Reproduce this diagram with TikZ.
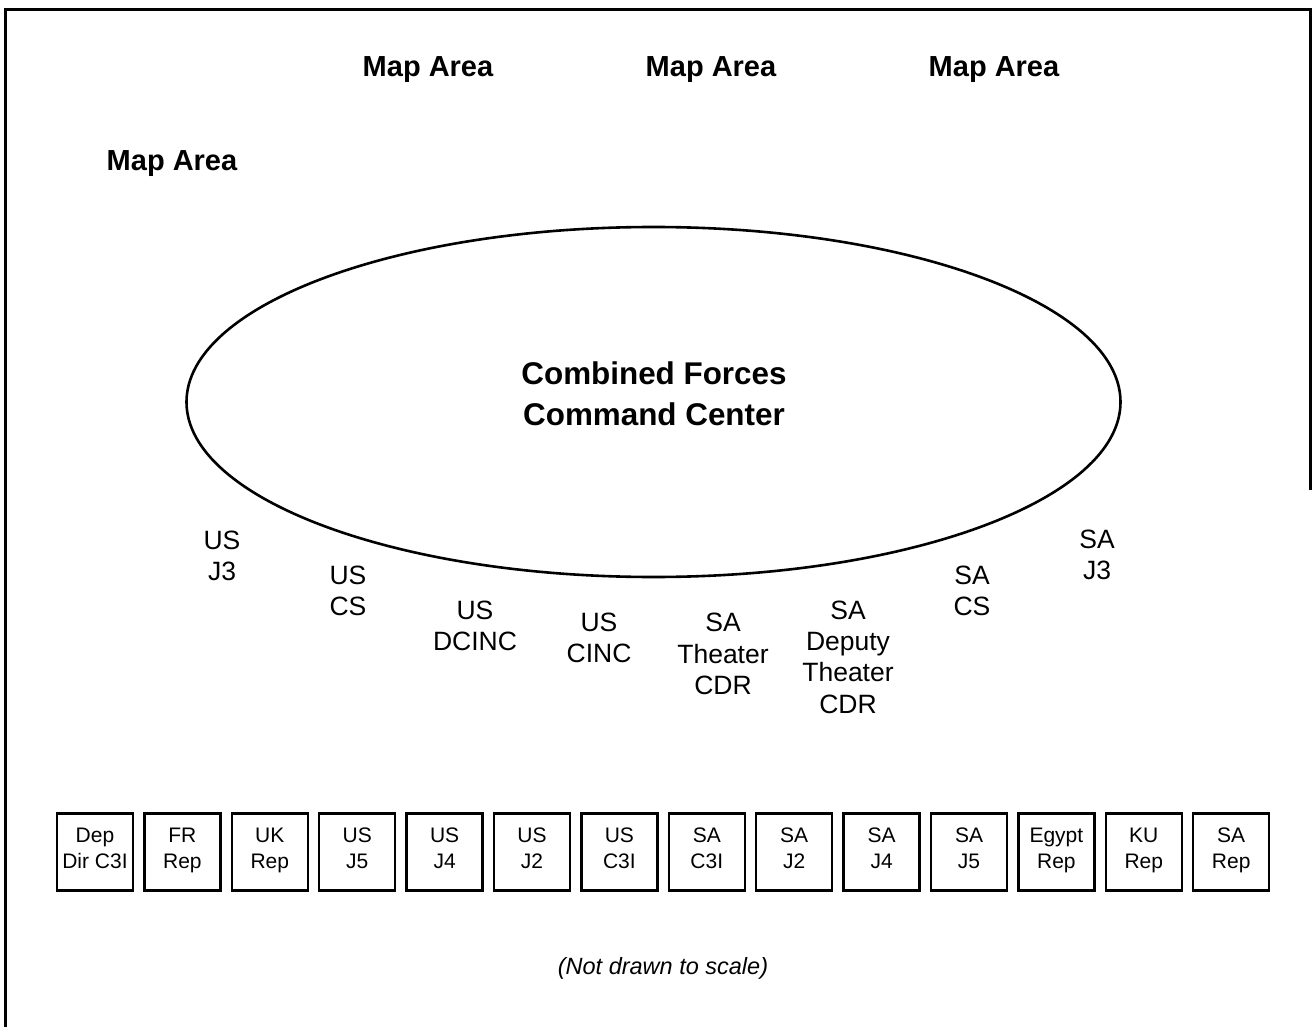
\documentclass[tikz,border=0pt]{standalone}
\usepackage{fontspec}
\setmainfont{Liberation Sans}
\usetikzlibrary{shapes.geometric}
\begin{document}
\begin{tikzpicture}[x=1pt,y=-1pt,
  maparea/.style={font=\fontsize{29}{35}\selectfont\bfseries},
  title/.style={font=\fontsize{31.4}{41}\selectfont\bfseries,align=center},
  seat/.style={font=\fontsize{26.5}{31.3}\selectfont,align=center},
  staffbox/.style={draw,line width=2.4pt,minimum width=76pt,minimum height=77pt,inner sep=0pt},
  boxtext/.style={font=\fontsize{21}{26}\selectfont,anchor=base,inner sep=0pt},
  note/.style={font=\fontsize{23.5}{28}\selectfont\itshape}]
\useasboundingbox (0,0) rectangle (1312,1027);
\fill[white] (0,0) rectangle (1312,1027);
% frame
\draw[line width=3pt] (5,1027) -- (5,10) -- (1310,10) -- (1310,490);
% map areas
\node[maparea] (ma1) at (428,70) {Map Area};
\node[maparea] (ma2) at (711,70) {Map Area};
\node[maparea] (ma3) at (994,70) {Map Area};
\node[maparea] (ma4) at (172,164) {Map Area};
% ellipse
\node[ellipse,draw,line width=2.6pt,minimum width=934pt,minimum height=350pt,inner sep=0pt] (cfcc) at (653.5,402) {};
\node[title] (cfcct) at (654,394) {Combined Forces\\Command Center};
% seats
\node[seat] (usj3) at (222,556) {US\\J3};
\node[seat] (uscs) at (348,591) {US\\CS};
\node[seat] (usdcinc) at (475,626) {US\\DCINC};
\node[seat] (uscinc) at (599,638) {US\\CINC};
\node[seat] (satcdr) at (723,654) {SA\\Theater\\CDR};
\node[seat] (sadtcdr) at (848,657) {SA\\Deputy\\Theater\\CDR};
\node[seat] (sacs) at (972,591) {SA\\CS};
\node[seat] (saj3) at (1097,555) {SA\\J3};
% boxes
\foreach \i/\la/\lb in {0/Dep/Dir C3I,1/FR/Rep,2/UK/Rep,3/US/J5,4/US/J4,5/US/J2,6/US/C3I,7/SA/C3I,8/SA/J2,9/SA/J4,10/SA/J5,11/Egypt/Rep,12/KU/Rep,13/SA/Rep}{
  \node[staffbox] (b\i) at ({95+87.4*\i},852) {};
  \node[boxtext] (b\i a) at ({95+87.4*\i},842) {\la};
  \node[boxtext] (b\i b) at ({95+87.4*\i},868) {\lb};
}
\node[note] (nts) at (663,968) {(Not drawn to scale)};
\end{tikzpicture}
\end{document}
